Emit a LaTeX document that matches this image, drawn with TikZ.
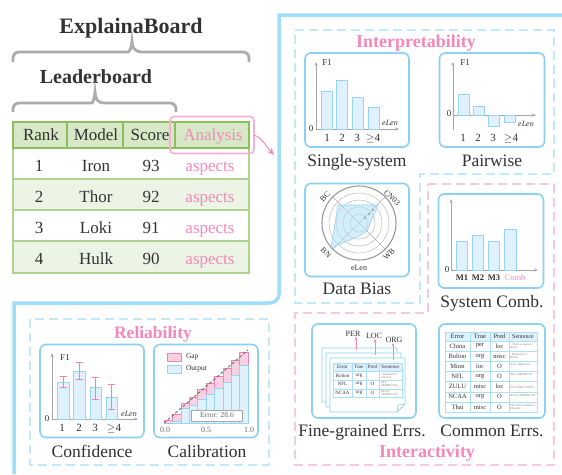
\documentclass[tikz,border=0pt]{standalone}
\usepackage{fontspec}
\setmainfont{Liberation Serif}
\usetikzlibrary{arrows.meta}
\definecolor{frameblue}{RGB}{160,221,248}
\definecolor{boxblue}{RGB}{140,208,242}
\definecolor{dashblue}{RGB}{195,232,249}
\definecolor{dashpink}{RGB}{250,200,222}
\definecolor{pinktxt}{RGB}{244,136,186}
\definecolor{hlpink}{RGB}{248,175,208}
\definecolor{barfill}{RGB}{222,241,252}
\definecolor{baredge}{RGB}{150,212,242}
\definecolor{gborder}{RGB}{140,190,95}
\definecolor{gline}{RGB}{175,210,145}
\definecolor{ghead}{RGB}{214,232,198}
\definecolor{galt}{RGB}{236,244,229}
\definecolor{bracegray}{RGB}{172,172,172}
\definecolor{txt}{RGB}{50,50,50}
\definecolor{axisgray}{RGB}{165,165,165}
\definecolor{gappink}{RGB}{250,208,226}
\definecolor{gapedge}{RGB}{240,130,180}
\newcommand{\fs}[1]{\fontsize{#1}{#1}\selectfont}
\newcommand{\fgpage}[2]{%
  \draw[fill=white, draw=boxblue, line width=0.8pt] (#1,#2) -- ++(75,0) -- ++(0,46) -- ++(-8,8) -- ++(-67,0) -- cycle;
  \draw[draw=boxblue, line width=0.6pt] (#1+67,#2+54) -- (#1+68,#2+47) -- (#1+75,#2+46);}
\begin{document}
\begin{tikzpicture}[x=1pt,y=-1pt,
  every node/.style={inner sep=0pt, outer sep=0pt, text=txt},
  chartbox/.style={draw=boxblue, line width=1.6pt, rounded corners=6pt, fill=white},
  lbl/.style={font=\fs{17.5}, anchor=base},
  sect/.style={font=\fs{18}\bfseries, text=pinktxt, anchor=base},
  tbl/.style={font=\fs{17}, anchor=base},
  bar/.style={fill=barfill, draw=baredge, line width=0.8pt},
  axisline/.style={draw=axisgray, line width=0.8pt, -{Stealth[length=4pt,width=3pt]}},
  small/.style={font=\fs{9}},
  ticklbl/.style={font=\fs{11}, anchor=base},
  elen/.style={font=\fs{8}\itshape},
  dashregion/.style={line width=2pt, dash pattern=on 9pt off 5pt},
  pinkarrow/.style={draw=pinktxt, line width=0.8pt, -{Stealth[length=4pt,width=3pt]}},
  cell/.style={font=\fs{6.5}},
  tiny/.style={font=\fs{3}, text=gray, anchor=west, align=left},
]
\useasboundingbox[fill=white] (0,0) rectangle (562,474);

% ---------- outer frame ----------
\draw[frameblue, line width=3.5pt] (14,474) -- (14,303) [rounded corners=9pt] -- (279,303) [sharp corners] -- (279,15) [rounded corners=9pt] -- (562,15);

% ---------- dashed regions ----------
\draw[dashregion, dashblue] (295,30) -- (554,30) -- (554,174) -- (420,174) -- (420,303) -- (295,303) -- cycle;
\draw[dashregion, dashpink] (428,184) -- (554,184) -- (554,465) -- (295,465) -- (295,313) -- (428,313) -- cycle;
\draw[dashregion, dashblue] (30,319) rectangle (269,465);

% ---------- titles and braces ----------
\node[font=\fs{22}\bfseries, anchor=base] (eb) at (131,33) {ExplainaBoard};
\draw[bracegray, line width=2.8pt] (13,62) [rounded corners=6pt] -- (13,52) -- (122,52) [sharp corners] .. controls (129,52) and (132,48) .. (132,41) .. controls (132,48) and (135,52) .. (142,52) [rounded corners=6pt] -- (249,52) -- (249,62);
\node[font=\fs{20}\bfseries, anchor=base] (lb) at (96,83) {Leaderboard};
\draw[bracegray, line width=2.8pt] (13,112) [rounded corners=6pt] -- (13,103) -- (86,103) [sharp corners] .. controls (92,103) and (95,99) .. (95,92) .. controls (95,99) and (98,103) .. (104,103) [rounded corners=6pt] -- (176,103) -- (176,112);

% ---------- leaderboard table ----------
\fill[ghead] (13,122) rectangle (249,148);
\fill[galt] (13,179) rectangle (249,210);
\fill[galt] (13,241) rectangle (249,273);
\draw[gline, line width=1.2pt] (13,148) rectangle (249,273);
\foreach \yy in {179,210,241} \draw[gline, line width=1.2pt] (13,\yy) -- (249,\yy);
\draw[gborder, line width=1.6pt] (13,122) rectangle (249,148);
\foreach \xx in {67,123,175} \draw[gborder, line width=1.6pt] (\xx,122) -- (\xx,148);
\node[tbl] (hrank) at (41,140) {Rank};
\node[tbl] (hmodel) at (96,140) {Model};
\node[tbl] (hscore) at (150,140) {Score};
\node[tbl, text=pinktxt] (hana) at (213,140) {Analysis};
\foreach \r/\m/\s [count=\i] in {1/Iron/93, 2/Thor/92, 3/Loki/91, 4/Hulk/90} {
  \node[tbl] (rk\i) at (39,{171+31*(\i-1)}) {\r};
  \node[tbl] (md\i) at (96,{171+31*(\i-1)}) {\m};
  \node[tbl] (sc\i) at (151,{171+31*(\i-1)}) {\s};
  \node[tbl, text=pinktxt] (as\i) at (210,{171+31*(\i-1)}) {aspects};
}
\node[draw=hlpink, line width=1.6pt, rounded corners=4pt, minimum width=84pt, minimum height=37pt] (hl) at (212,135) {};
\coordinate (arrowend) at (274,155);
\draw[pinktxt, line width=1pt, -{Stealth[length=7pt,width=6pt]}] (hl.east) .. controls (262,138) and (266,146) .. (arrowend);

% ---------- section titles ----------
\node[sect] (interp) at (416,47) {Interpretability};
\node[sect, font=\fs{17.5}\bfseries] (relia) at (153,338) {Reliability};
\node[sect] (inter) at (427,457) {Interactivity};

% ---------- Single-system ----------
\node[chartbox, minimum width=104pt, minimum height=94pt] (ss) at (357,100) {};
\node[lbl] (sslbl) at (357,166) {Single-system};
\draw[axisline] (316,129) -- (316,62);
\draw[axisline] (316,129) -- (399,129);
\draw[bar] (321,129) rectangle (332,91);
\draw[bar] (336,129) rectangle (347,80);
\draw[bar] (352,129) rectangle (363,97);
\draw[bar] (368,129) rectangle (379,107);
\node[small] (ssf1) at (327,63) {F1};
\node[small] (ss0) at (311,129) {0};
\node[elen] (sselen) at (390,123) {eLen};
\node[ticklbl] (sst1) at (327,141) {1};
\node[ticklbl] (sst2) at (342,141) {2};
\node[ticklbl] (sst3) at (357,141) {3};
\node[ticklbl] (sst4) at (373,141) {$\geq$4};

% ---------- Pairwise ----------
\node[chartbox, minimum width=105pt, minimum height=94pt] (pw) at (492,100) {};
\node[lbl] (pwlbl) at (492,166) {Pairwise};
\draw[axisline] (453,130) -- (453,62);
\draw[axisline] (453,115) -- (536,115);
\draw[bar] (458,115) rectangle (469,94);
\draw[bar] (473,115) rectangle (484,106);
\draw[bar] (488,115) rectangle (499,126);
\draw[bar] (504,115) rectangle (515,122);
\node[small] (pwf1) at (465,63) {F1};
\node[small] (pw0) at (449,114) {0};
\node[elen] (pwelen) at (526,124) {eLen};
\node[ticklbl] (pwt1) at (463,141) {1};
\node[ticklbl] (pwt2) at (478,141) {2};
\node[ticklbl] (pwt3) at (493,141) {3};
\node[ticklbl] (pwt4) at (511,141) {$\geq$4};

% ---------- Data Bias ----------
\node[chartbox, minimum width=104pt, minimum height=93pt] (db) at (357,230) {};
\node[lbl] (dblbl) at (357,294) {Data Bias};
\foreach \rr in {9,16,23,30} \draw[gray!55, line width=0.5pt] (359,223) circle (\rr pt);
\draw[gray!80, line width=1.1pt] (359,223) circle (37pt);
\draw[gray!60, line width=0.5pt] (333,197) -- (385,249);
\draw[gray!60, line width=0.5pt] (385,197) -- (333,249);
\fill[baredge!70, fill opacity=0.6] (338,205) -- (378,205) -- (367,231) -- (359,236) -- (331,248) -- cycle;
\draw[baredge, line width=0.6pt] (338,205) -- (378,205) -- (367,231) -- (359,236) -- (331,248) -- cycle;
\node[font=\fs{3.5}] (dbt2) at (365,218) {2};
\node[font=\fs{3.5}] (dbt4) at (369,214) {4};
\node[font=\fs{3.5}] (dbt6) at (373,210) {6};
\node[font=\fs{8}, rotate=45] (bc) at (325,197) {BC};
\node[font=\fs{8}, rotate=-45] (cn) at (392,198) {CN03};
\node[font=\fs{8}, rotate=-45] (bn) at (326,253) {BN};
\node[font=\fs{8}, rotate=45] (wb) at (389,254) {WB};
\node[font=\fs{8}] (dbelen) at (359,268) {eLen};

% ---------- System Comb. ----------
\node[chartbox, minimum width=105pt, minimum height=94pt] (sc) at (491,241) {};
\node[lbl] (sclbl) at (492,307) {System Comb.};
\draw[axisline] (451,270) -- (451,199);
\draw[axisline] (451,270) -- (538,270);
\draw[bar] (456,270) rectangle (467,241);
\draw[bar] (472,270) rectangle (483,235);
\draw[bar] (488,270) rectangle (499,241);
\draw[bar] (504,270) rectangle (516,229);
\node[small] (sc0) at (447,270) {0};
\node[font=\fs{8.5}\bfseries, anchor=base] (m1) at (462,280) {M1};
\node[font=\fs{8.5}\bfseries, anchor=base] (m2) at (478,280) {M2};
\node[font=\fs{8.5}\bfseries, anchor=base] (m3) at (494,280) {M3};
\node[font=\fs{8.5}, anchor=base, text=pinktxt] (comb) at (515,280) {Comb};

% ---------- Fine-grained Errs. ----------
\node[chartbox, minimum width=104pt, minimum height=94pt] (fg) at (364,371) {};
\node[lbl] (fglbl) at (362,436) {Fine-grained Errs.};
\fgpage{322}{348}
\fgpage{326}{353}
\fgpage{330}{358}
\node[font=\fs{8}] (per) at (353,334) {PER};
\node[font=\fs{8}] (loc) at (374,336) {LOC};
\node[font=\fs{8}] (org) at (394,340) {ORG};
\coordinate (perfoot) at (356,350);
\coordinate (locfoot) at (375,355);
\coordinate (orgfoot) at (393,360);
\draw[pinkarrow] (perfoot) -- (perfoot |- per.south);
\draw[pinkarrow] (locfoot) -- (locfoot |- loc.south);
\draw[pinkarrow] (orgfoot) -- (orgfoot |- org.south);
\fill[barfill] (333,363) rectangle (402,371);
\draw[boxblue!70, line width=0.4pt] (333,363) rectangle (402,397);
\foreach \yy in {371,380,389} \draw[boxblue!70, line width=0.4pt] (333,\yy) -- (402,\yy);
\foreach \xx in {352,366,379} \draw[boxblue!70, line width=0.4pt] (\xx,363) -- (\xx,397);
\node[font=\fs{5}] (fgh1) at (342.5,367) {Error};
\node[font=\fs{5}] (fgh2) at (359,367) {True};
\node[font=\fs{5}] (fgh3) at (372.5,367) {Pred};
\node[font=\fs{5}] (fgh4) at (390.5,367) {Sentence};
\foreach \e/\t/\p/\s [count=\i] in {Bolton/org/{}/{-- Brunswick\\v Bolton}, NFL/org/O/{NFL\\AMERICAN ...}, NCAA/org/O/{NCAA\\AMERICAN ...}} {
  \node[font=\fs{5}] (fge\i) at (342.5,{375.5+8.7*(\i-1)}) {\e};
  \node[font=\fs{5}] (fgt\i) at (359,{375.5+8.7*(\i-1)}) {\t};
  \node[font=\fs{5}] (fgp\i) at (372.5,{375.5+8.7*(\i-1)}) {\p};
  \node[tiny] (fgs\i) at (381,{375.5+8.7*(\i-1)}) {\s};
}

% ---------- Common Errs. ----------
\node[chartbox, minimum width=106pt, minimum height=94pt] (ce) at (492,371) {};
\node[lbl] (celbl) at (492,436) {Common Errs.};
\fill[barfill] (445,332) rectangle (537,341);
\draw[boxblue!70, line width=0.5pt] (445,332) rectangle (537,412);
\foreach \i in {0,...,6} \draw[boxblue!70, line width=0.5pt] (445,{341+10.15*\i}) -- (537,{341+10.15*\i});
\foreach \xx in {470,490,509} \draw[boxblue!70, line width=0.5pt] (\xx,332) -- (\xx,412);
\node[cell] (ceh1) at (457.5,336.5) {Error};
\node[cell] (ceh2) at (480,336.5) {True};
\node[cell] (ceh3) at (499.5,336.5) {Pred};
\node[cell, font=\fs{6}] (ceh4) at (523,336.5) {Sentence};
\foreach \e/\t/\p/\s [count=\i] in {China/per/loc/{-- China is superior\\talent}, Bolton/org/misc/{-- Brunswick v\\Bolton}, Minn/loc/O/{Jesse I-Minn led\\...}, NFL/org/O/{NFL AMERICAN\\...}, ZULU/misc/loc/{...\\ZULU PROVINCE ...}, NCAA/org/O/{NCAA AMERICAN\\...}, Thai/misc/O/{The Thai Commerce\\Ministry ...}} {
  \node[cell] (cee\i) at (457.5,{346+10.15*(\i-1)}) {\e};
  \node[cell] (cet\i) at (480,{346+10.15*(\i-1)}) {\t};
  \node[cell] (cep\i) at (499.5,{346+10.15*(\i-1)}) {\p};
  \node[tiny] (ces\i) at (510,{346+10.15*(\i-1)}) {\s};
}

% ---------- Confidence ----------
\node[chartbox, minimum width=104pt, minimum height=93pt] (cf) at (92,391) {};
\node[lbl] (cflbl) at (92,457) {Confidence};
\draw[axisline] (52,419) -- (52,353);
\draw[axisline] (52,419) -- (138,419);
\draw[bar] (57,419) rectangle (69,382);
\draw[bar] (73,419) rectangle (85,371);
\draw[bar] (90,419) rectangle (101,387);
\draw[bar] (106,419) rectangle (117,397);
\foreach \cx/\lo/\hi in {63/376/387, 79/362/379, 95.5/377/399, 111.5/384/409} {
  \draw[gapedge, line width=0.8pt] (\cx,\lo) -- (\cx,\hi);
  \draw[gapedge, line width=0.8pt] (\cx-3.5,\lo) -- (\cx+3.5,\lo);
  \draw[gapedge, line width=0.8pt] (\cx-3.5,\hi) -- (\cx+3.5,\hi);
}
\node[small] (cff1) at (65,358) {F1};
\node[small] (cf0) at (47,419) {0};
\node[elen] (cfelen) at (129,414) {eLen};
\node[ticklbl] (cft1) at (62,431) {1};
\node[ticklbl] (cft2) at (79,431) {2};
\node[ticklbl] (cft3) at (95,431) {3};
\node[ticklbl] (cft4) at (114,431) {$\geq$4};

% ---------- Calibration ----------
\node[chartbox, minimum width=104pt, minimum height=93pt] (cb) at (206,391) {};
\node[lbl] (cblbl) at (207,457) {Calibration};
\foreach \i/\o/\g in {0/0.0/0.04, 1/0.02/0.12, 2/0.2/0.27, 3/0.24/0.35, 4/0.32/0.46, 5/0.40/0.55, 6/0.48/0.64, 7/0.56/0.75, 8/0.66/0.86, 9/0.79/0.97} {
  \draw[fill=gappink, draw=gapedge, line width=0.5pt] ({164+8.4*\i},{423-73*\o}) rectangle ({172.4+8.4*\i},{423-73*\g});
  \draw[fill=barfill, draw=baredge, line width=0.5pt] ({164+8.4*\i},423) rectangle ({172.4+8.4*\i},{423-73*\o});
}
\draw[gray!85!black, line width=0.9pt, dash pattern=on 3pt off 2pt] (164,423) -- (248,350);
\draw[fill=gappink, draw=gapedge, line width=0.5pt] (167,353) rectangle (181,361);
\draw[fill=barfill, draw=baredge, line width=0.5pt] (167,365) rectangle (181,373);
\node[font=\fs{7.5}, anchor=west] (gap) at (186,357) {Gap};
\node[font=\fs{7.5}, anchor=west] (outp) at (186,369) {Output};
\node[draw=gray!70, fill=white, line width=0.8pt, minimum width=51pt, minimum height=11pt, font=\fs{7.5}, text=gray!80!black] (err) at (217,415.5) {Error: 28.6};
\node[font=\fs{8}, text=gray!80!black] (x0) at (165,430) {0.0};
\node[font=\fs{8}, text=gray!80!black] (x5) at (206,430) {0.5};
\node[font=\fs{8}, text=gray!80!black] (x1) at (249,430) {1.0};
\end{tikzpicture}
\end{document}
